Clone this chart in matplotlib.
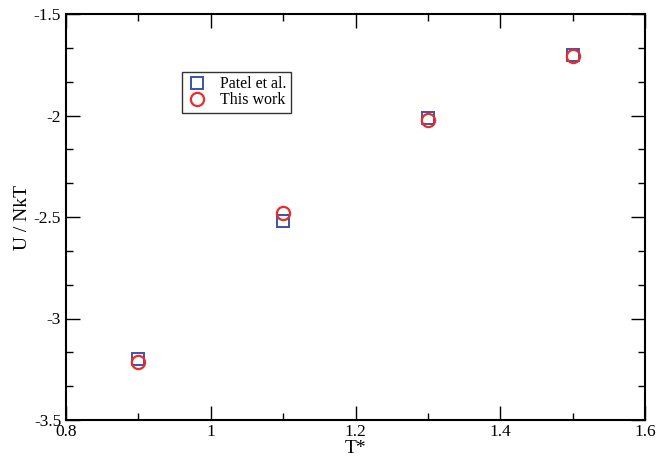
import matplotlib.pyplot as plt
from matplotlib.ticker import MultipleLocator, AutoMinorLocator

plt.rcParams["font.family"] = ["Liberation Serif", "DejaVu Serif"]

temps = [0.9, 1.1, 1.3, 1.5]
patel_u = [-3.20, -2.52, -2.01, -1.70]
this_work_u = [-3.215, -2.48, -2.02, -1.705]

fig = plt.figure(figsize=(6.72, 4.58), dpi=100)
ax = fig.add_axes([66 / 672, 38 / 458, 579 / 672, 406 / 458])

ax.plot(temps, patel_u, linestyle="none", marker="s", markersize=8.5,
        markerfacecolor="none", markeredgecolor="#3a52b0", markeredgewidth=1.4,
        label="Patel et al.")
ax.plot(temps, this_work_u, linestyle="none", marker="o", markersize=9.5,
        markerfacecolor="none", markeredgecolor="#ee2a2a", markeredgewidth=1.6,
        label="This work")

ax.set_xlim(0.8, 1.6)
ax.set_ylim(-3.5, -1.5)
ax.xaxis.set_major_locator(MultipleLocator(0.2))
ax.xaxis.set_minor_locator(AutoMinorLocator(2))
ax.yaxis.set_major_locator(MultipleLocator(0.5))
ax.yaxis.set_minor_locator(AutoMinorLocator(3))
ax.xaxis.set_major_formatter(plt.FuncFormatter(lambda v, p: f"{v:g}"))
ax.yaxis.set_major_formatter(plt.FuncFormatter(lambda v, p: f"{v:g}"))
ax.tick_params(which="both", direction="in", top=True, right=True,
               labelsize=12.5, width=1.0)
ax.tick_params(axis="x", pad=3)
ax.tick_params(which="major", length=10)
ax.tick_params(which="minor", length=5)
for s in ax.spines.values():
    s.set_linewidth(1.5)

ax.set_xlabel("T*", fontsize=14, labelpad=0)
ax.set_ylabel("U / NkT", fontsize=14, labelpad=2)

leg = ax.legend(loc="upper left", bbox_to_anchor=(0.200, 0.858), fontsize=11.5,
                frameon=True, fancybox=False, edgecolor="black",
                borderaxespad=0, handletextpad=0.8, borderpad=0.3,
                labelspacing=0.0, handlelength=1.3)
leg.get_frame().set_linewidth(1.0)

plt.savefig("out.png", dpi=100)
